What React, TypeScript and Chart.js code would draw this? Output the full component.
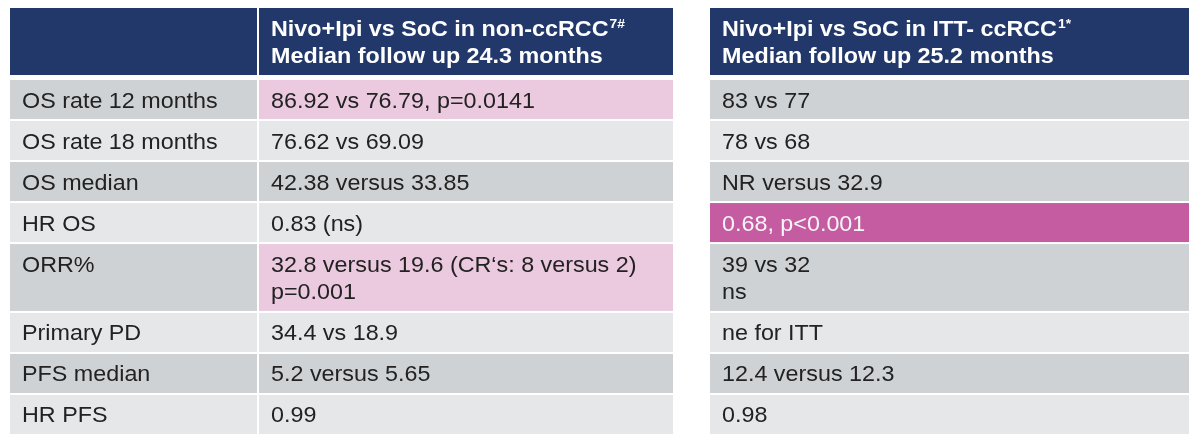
import React, { useEffect, useRef } from 'react';
import { Chart, registerables } from 'chart.js';

Chart.register(...registerables);

// ---------- data ----------
const rowLabels = [
  'OS rate 12 months',
  'OS rate 18 months',
  'OS median',
  'HR OS',
  'ORR%',
  'Primary PD',
  'PFS median',
  'HR PFS',
];

const headerNonCc = ['Nivo+Ipi vs SoC in non-ccRCC', 'Median follow up 24.3 months'];
const headerNonCcSup = '7#';
const headerItt = ['Nivo+Ipi vs SoC in ITT- ccRCC', 'Median follow up 25.2 months'];
const headerIttSup = '1*';

const nonCcValues = [
  ['86.92 vs 76.79, p=0.0141'],
  ['76.62 vs 69.09'],
  ['42.38 versus 33.85'],
  ['0.83 (ns)'],
  ['32.8 versus 19.6 (CR\u2018s: 8 versus 2)', 'p=0.001'],
  ['34.4 vs 18.9'],
  ['5.2 versus 5.65'],
  ['0.99'],
];

const ittValues = [
  ['83 vs 77'],
  ['78 vs 68'],
  ['NR versus 32.9'],
  ['0.68, p<0.001'],
  ['39 vs 32', 'ns'],
  ['ne for ITT'],
  ['12.4 versus 12.3'],
  ['0.98'],
];

// significance highlight per cell: '' none, 'pale', 'strong'
const nonCcHighlight = ['pale', '', '', '', 'pale', '', '', ''];
const ittHighlight = ['', '', '', 'strong', '', '', '', ''];

// ---------- layout / style ----------
const COLS = {
  label: [10, 257],
  nonCc: [259, 673],
  itt: [710, 1189],
};
const HEADER_H = 1.634;
const ROWS_START = 1.756;
const EXTRA_LINE = 0.68;
const GAP = 0.049;
const TEXT_PAD = 12;
const LINE_GAP = 26.5;

const NAVY = '#22386a';
const DARK_ROW = '#cfd2d5';
const LIGHT_ROW = '#e5e7e8';
const PALE = '#ebc9df';
const STRONG = '#c55ca2';
const TEXT = '#222222';

const FAMILY = '"Liberation Sans", Arial, sans-serif';
const TEXT_FONT = `22px ${FAMILY}`;
const HEAD_FONT = `bold 22px ${FAMILY}`;
const SUP_FONT = `bold 13px ${FAMILY}`;
const STRETCH = 1.06;

const rowHeights = rowLabels.map((_, i) => {
  const lines = Math.max(nonCcValues[i].length, ittValues[i].length);
  return 1 + (lines - 1) * EXTRA_LINE;
});
const rowStarts: number[] = [];
{
  let acc = ROWS_START;
  rowHeights.forEach((h) => {
    rowStarts.push(acc);
    acc += h;
  });
}
const TOTAL = rowStarts[rowStarts.length - 1] + rowHeights[rowHeights.length - 1];

function drawText(ctx: CanvasRenderingContext2D, text: string, x: number, y: number, font: string, color: string) {
  ctx.save();
  ctx.font = font;
  ctx.fillStyle = color;
  ctx.textAlign = 'left';
  ctx.textBaseline = 'alphabetic';
  ctx.translate(x, y);
  ctx.scale(STRETCH, 1);
  ctx.fillText(text, 0, 0);
  const w = ctx.measureText(text).width * STRETCH;
  ctx.restore();
  return w;
}

const tablePlugin = {
  id: 'tableCells',
  afterDraw(chart: any) {
    const { ctx } = chart;
    const xs = chart.scales.x;
    const ys = chart.scales.y;
    const px = (v: number) => xs.getPixelForValue(v);
    const py = (v: number) => ys.getPixelForValue(v);

    const fillCell = (col: number[], y0: number, y1: number, color: string) => {
      const l = px(col[0]);
      const r = px(col[1]);
      const t = py(y0);
      const b = py(y1);
      ctx.fillStyle = color;
      ctx.fillRect(l, t, r - l, b - t);
    };

    const drawLines = (col: number[], y0: number, y1: number, lines: string[], font: string, color: string, sup?: string) => {
      const center = (py(y0) + py(y1)) / 2;
      const n = lines.length;
      const first = center + 8 - ((n - 1) * LINE_GAP) / 2;
      lines.forEach((t, k) => {
        const base = first + k * LINE_GAP;
        const w = drawText(ctx, t, px(col[0]) + TEXT_PAD, base, font, color);
        if (sup && k === 0) {
          drawText(ctx, sup, px(col[0]) + TEXT_PAD + w + 1, base - 8, SUP_FONT, color);
        }
      });
    };

    ctx.save();
    // header
    fillCell(COLS.label, 0, HEADER_H, NAVY);
    fillCell(COLS.nonCc, 0, HEADER_H, NAVY);
    fillCell(COLS.itt, 0, HEADER_H, NAVY);
    drawLines(COLS.nonCc, 0, HEADER_H, headerNonCc, HEAD_FONT, '#ffffff', headerNonCcSup);
    drawLines(COLS.itt, 0, HEADER_H, headerItt, HEAD_FONT, '#ffffff', headerIttSup);

    // body
    rowLabels.forEach((label, i) => {
      const y0 = rowStarts[i];
      const y1 = rowStarts[i] + rowHeights[i] - GAP;
      const base = i % 2 === 0 ? DARK_ROW : LIGHT_ROW;
      const colorFor = (h: string) => (h === 'pale' ? PALE : h === 'strong' ? STRONG : base);
      fillCell(COLS.label, y0, y1, base);
      fillCell(COLS.nonCc, y0, y1, colorFor(nonCcHighlight[i]));
      fillCell(COLS.itt, y0, y1, colorFor(ittHighlight[i]));

      const nLines = Math.max(nonCcValues[i].length, ittValues[i].length);
      const pad = (arr: string[]) => {
        const out = arr.slice();
        while (out.length < nLines) out.push('');
        return out;
      };
      drawLines(COLS.label, y0, y1, pad([label]), TEXT_FONT, TEXT);
      drawLines(COLS.nonCc, y0, y1, pad(nonCcValues[i]), TEXT_FONT, nonCcHighlight[i] === 'strong' ? '#f5f5f5' : TEXT);
      drawLines(COLS.itt, y0, y1, pad(ittValues[i]), TEXT_FONT, ittHighlight[i] === 'strong' ? '#f5f5f5' : TEXT);
    });
    ctx.restore();
  },
};

export default function App() {
  const ref = useRef<HTMLCanvasElement | null>(null);

  useEffect(() => {
    document.body.style.margin = '0';
    document.body.style.background = '#ffffff';
    if (!ref.current) return;
    const chart = new Chart(ref.current, {
      type: 'scatter',
      data: { datasets: [] },
      options: {
        animation: false,
        responsive: true,
        maintainAspectRatio: false,
        devicePixelRatio: 1,
        layout: { padding: { top: 8, bottom: 5, left: 0, right: 0 } },
        plugins: { legend: { display: false }, tooltip: { enabled: false } },
        scales: {
          x: { type: 'linear', min: 0, max: 1200, display: false },
          y: { type: 'linear', min: 0, max: TOTAL, reverse: true, display: false },
        },
      },
      plugins: [tablePlugin],
    } as any);
    return () => chart.destroy();
  }, []);

  return (
    <div style={{ width: 1200, height: 441, position: 'relative', background: '#fff' }}>
      <canvas ref={ref} />
    </div>
  );
}
